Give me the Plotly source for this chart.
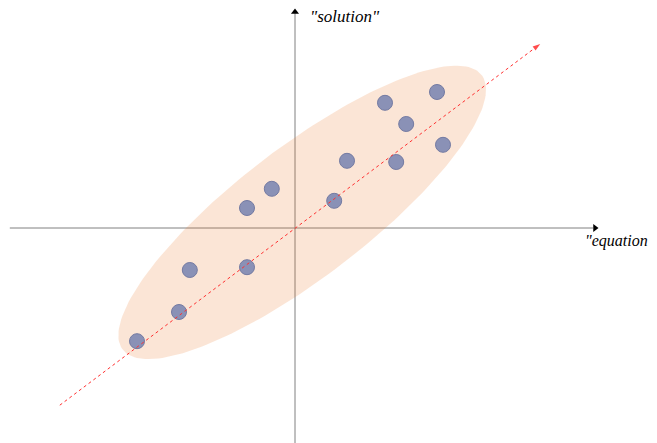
import numpy as np
import plotly.graph_objects as go

# data (origin at axes crossing)
pts_x = [-3.95, -2.90, -2.63, -1.20, -1.20, -0.58, 0.98, 1.30, 2.25, 2.78, 2.53, 3.55, 3.70]
pts_y = [-2.83, -2.10, -1.05, -0.98, 0.50, 0.98, 0.68, 1.68, 3.13, 2.60, 1.65, 3.40, 2.08]
trend_x = [-5.88, 6.13]
trend_y = [-4.43, 4.60]
x_label = '"equation"'
y_label = '"solution"'

# ellipse parameters
ecx, ecy, ea, eb, eth = 0.18, 0.39, 5.65, 1.63, np.radians(37.4)
t = np.linspace(0, 2 * np.pi, 200)
ex = ecx + ea * np.cos(t) * np.cos(eth) - eb * np.sin(t) * np.sin(eth)
ey = ecy + ea * np.cos(t) * np.sin(eth) + eb * np.sin(t) * np.cos(eth)

fig = go.Figure()
axis_col = "#808080"
# axes
fig.add_trace(go.Scatter(x=[-7.13, 7.45], y=[0, 0], mode="lines",
                         line=dict(color=axis_col, width=1), hoverinfo="skip"))
fig.add_trace(go.Scatter(x=[0, 0], y=[-5.6, 5.38], mode="lines",
                         line=dict(color=axis_col, width=1), hoverinfo="skip"))
fig.add_trace(go.Scatter(x=[7.5], y=[0], mode="markers",
                         marker=dict(symbol="triangle-right", size=7, color="black"), hoverinfo="skip"))
fig.add_trace(go.Scatter(x=[0], y=[5.4], mode="markers",
                         marker=dict(symbol="triangle-up", size=7, color="black"), hoverinfo="skip"))
# ellipse
fig.add_trace(go.Scatter(x=ex, y=ey, mode="lines", fill="toself",
                         fillcolor="rgba(237,125,49,0.2)", line=dict(width=0), hoverinfo="skip"))
# points
fig.add_trace(go.Scatter(x=pts_x, y=pts_y, mode="markers",
                         marker=dict(size=15, color="#8a91b6", line=dict(color="#737aa2", width=1))))
# trend line
fig.add_trace(go.Scatter(x=trend_x, y=trend_y, mode="lines+markers",
                         line=dict(color="#ff3030", width=1, dash="dot"),
                         marker=dict(symbol=["circle", "arrow"], size=[0, 8], angleref="previous",
                                     color="#ff0000", line=dict(width=0))))

fig.add_annotation(x=0.33, y=5.28, xref="x", yref="y", text=y_label, showarrow=False,
                   xanchor="left", yanchor="middle",
                   font=dict(family="Liberation Serif", size=17, color="black", style="italic"))
fig.add_annotation(x=7.2, y=-0.33, xref="x", yref="y", text=x_label, showarrow=False,
                   xanchor="left", yanchor="middle",
                   font=dict(family="Liberation Serif", size=16, color="black", style="italic"))

# page body has an 8px margin, so the figure is 8px smaller and shifted accordingly
fig.update_layout(
    width=649, height=435, margin=dict(l=0, r=0, t=0, b=0),
    paper_bgcolor="white", plot_bgcolor="white", showlegend=False,
    xaxis=dict(range=[-287 / 40, 362 / 40], visible=False, fixedrange=True),
    yaxis=dict(range=[-215 / 40, 220 / 40], visible=False, fixedrange=True),
)
fig.write_html("out.html")
